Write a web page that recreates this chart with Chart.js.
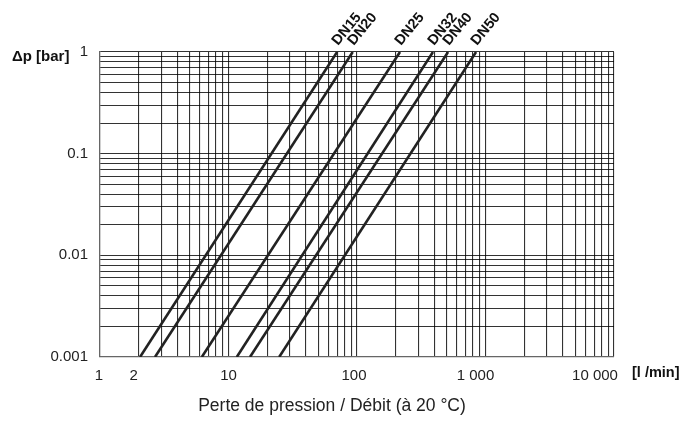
<!DOCTYPE html>
<html>
<head>
<meta charset="utf-8">
<script src="https://cdn.jsdelivr.net/npm/chart.js@4/dist/chart.umd.min.js"></script>
<style>
  html, body { margin: 0; padding: 0; background: #fff; }
  #wrap { width: 692px; height: 430px; }
</style>
</head>
<body>
<div id="wrap"><canvas id="lossChart"></canvas></div>
<script>
// Perte de pression / Débit
const sizes = ['DN15', 'DN20', 'DN25', 'DN32', 'DN40', 'DN50'];
const flowAtMin = [2.05, 2.68, 6.2, 11.6, 14.7, 24.8];   // l/min at 0.001 bar
const flowAtMax = [70, 92.6, 216, 390, 511, 844];        // l/min at 1 bar
const dpRange = [0.001, 1];
const xTickValues = [1, 2, 10, 100, 1000, 10000];
const xTickLabels = ['1', '2', '10', '100', '1 000', '10 000'];
const yLabels = { 0.001: '0.001', 0.01: '0.01', 0.1: '0.1', 1: '1' };

const FONT = '"Liberation Sans", Arial, sans-serif';

function logTicks(min, max) {
    const out = [];
    for (let e = Math.round(Math.log10(min)); e < Math.round(Math.log10(max)); e++) {
        for (let m = 1; m < 10; m++) out.push(+(m * Math.pow(10, e)).toPrecision(3));
    }
    out.push(max);
    return out.map(v => ({ value: v }));
}

const datasets = sizes.map((name, i) => ({
    label: name,
    data: [{ x: flowAtMin[i], y: dpRange[0] }, { x: flowAtMax[i], y: dpRange[1] }],
    borderColor: '#222',
    borderWidth: 2.6,
    pointRadius: 0,
    fill: false
}));

// size labels, x tick labels (big numbers nudged left like the original), units, title
const annotations = {
    id: 'annotations',
    afterDraw(chart) {
        const c = chart.ctx;
        const xs = chart.scales.x, ys = chart.scales.y;
        const area = chart.chartArea;
        c.save();
        c.fillStyle = '#111';
        c.font = 'bold 14.5px ' + FONT;
        chart.data.datasets.forEach(ds => {
            const p = ds.data[1];
            const px = xs.getPixelForValue(p.x);
            const py = ys.getPixelForValue(p.y);
            c.save();
            c.translate(px + 1, py - 6);
            c.rotate(-0.88);
            c.textAlign = 'left';
            c.textBaseline = 'alphabetic';
            c.fillText(ds.label, 0, 0);
            c.restore();
        });

        const nudge = [-1, -5, 0, -3, -10, -19];
        c.font = '15px ' + FONT;
        c.fillStyle = '#222';
        c.textAlign = 'center';
        c.textBaseline = 'middle';
        xTickValues.forEach((v, i) => {
            c.fillText(xTickLabels[i], xs.getPixelForValue(v) + nudge[i], area.bottom + 19);
        });

        c.fillStyle = '#111';
        c.font = 'bold 15px ' + FONT;
        c.textAlign = 'left';
        c.fillText('Δp [bar]', 12, 57);
        c.font = 'bold 14.5px ' + FONT;
        c.fillText('[l /min]', 632, 373);
        c.font = '17.5px ' + FONT;
        c.textAlign = 'center';
        c.fillStyle = '#222';
        c.fillText('Perte de pression / Débit (à 20 °C)', 332, 406);
        c.restore();
    }
};

const ctx = document.getElementById('lossChart').getContext('2d');
const lossChart = new Chart(ctx, {
    type: 'line',
    data: { datasets: datasets },
    options: {
        responsive: true,
        maintainAspectRatio: false,
        animation: false,
        layout: { padding: { top: 52, right: 78, bottom: 0, left: 0 } },
        plugins: {
            legend: { display: false },
            tooltip: { enabled: false }
        },
        scales: {
            x: {
                type: 'logarithmic',
                min: 1,
                max: 10000,
                afterBuildTicks: s => { s.ticks = logTicks(1, 10000); },
                afterFit: s => { s.height = 73; },
                grid: { color: 'rgba(0,0,0,0.8)', lineWidth: 1.1, drawTicks: false },
                border: { color: '#666', width: 1.2 },
                ticks: { display: false }
            },
            y: {
                type: 'logarithmic',
                min: 0.001,
                max: 1,
                afterBuildTicks: s => { s.ticks = logTicks(0.001, 1); },
                afterFit: s => { s.width = 100; },
                grid: { color: 'rgba(0,0,0,0.8)', lineWidth: 1.1, drawTicks: false },
                border: { color: '#666', width: 1.2 },
                ticks: {
                    autoSkip: false,
                    padding: 12,
                    color: '#222',
                    font: { family: FONT, size: 15 },
                    callback: v => yLabels[v] || ''
                }
            }
        }
    },
    plugins: [annotations]
});
</script>
</body>
</html>
